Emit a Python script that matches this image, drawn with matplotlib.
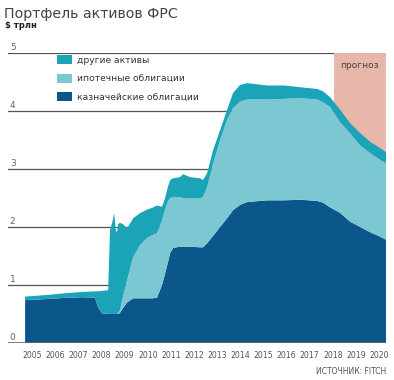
import numpy as np
import matplotlib
matplotlib.use("Agg")
import matplotlib.pyplot as plt

# =========================
# DATA ($ trillion, cumulative tops)
# =========================

years = [2005.20, 2006.20, 2007.00, 2007.66, 2008.22, 2008.35, 2008.53, 2008.79,
         2008.87, 2008.95, 2009.05, 2009.12, 2009.17, 2009.22, 2009.30, 2009.43,
         2009.61, 2009.87, 2010.17, 2010.47, 2010.69, 2010.90, 2011.12, 2011.25,
         2011.38, 2011.47, 2011.60, 2011.90, 2012.03, 2012.33, 2012.76, 2012.89,
         2013.07, 2013.33, 2013.63, 2013.93, 2014.19, 2014.49, 2014.80, 2015.66,
         2016.40, 2017.09, 2017.82, 2018.08, 2018.38, 2018.82, 2019.25, 2019.68,
         2020.11, 2020.55, 2020.80]

treasury_top = [0.74, 0.76, 0.78, 0.79, 0.78, 0.62, 0.51, 0.50,
                0.50, 0.50, 0.50, 0.50, 0.50, 0.50, 0.52, 0.60,
                0.70, 0.77, 0.77, 0.77, 0.77, 0.78, 1.00, 1.20,
                1.40, 1.55, 1.64, 1.66, 1.66, 1.66, 1.65, 1.65,
                1.72, 1.85, 2.00, 2.15, 2.29, 2.38, 2.43, 2.46,
                2.46, 2.47, 2.45, 2.42, 2.34, 2.24, 2.09, 2.00,
                1.91, 1.83, 1.78]

mbs_top = [0.74, 0.76, 0.78, 0.79, 0.78, 0.62, 0.51, 0.50,
           0.50, 0.50, 0.50, 0.50, 0.50, 0.52, 0.57, 0.80,
           1.09, 1.48, 1.69, 1.81, 1.86, 1.89, 2.12, 2.30,
           2.45, 2.50, 2.52, 2.51, 2.50, 2.50, 2.49, 2.52,
           2.69, 3.10, 3.50, 3.85, 4.05, 4.16, 4.20, 4.20,
           4.21, 4.22, 4.20, 4.15, 4.07, 3.81, 3.62, 3.41,
           3.28, 3.16, 3.10]

total_top = [0.80, 0.83, 0.86, 0.88, 0.89, 0.89, 0.90, 0.91,
             1.95, 2.05, 2.24, 1.95, 1.90, 2.05, 2.07, 2.05,
             1.98, 2.15, 2.24, 2.30, 2.33, 2.37, 2.35, 2.50,
             2.70, 2.81, 2.84, 2.86, 2.91, 2.86, 2.84, 2.81,
             2.93, 3.33, 3.67, 4.02, 4.31, 4.45, 4.48, 4.44,
             4.44, 4.41, 4.38, 4.34, 4.24, 4.02, 3.79, 3.62,
             3.47, 3.36, 3.29]

labels = ["казначейские облигации", "ипотечные облигации", "другие активы"]
colors = ["#0b578c", "#7bc8d2", "#1ba3b7"]

year_labels = [str(y) for y in range(2005, 2021)]
y_ticks = [0, 1, 2, 3, 4, 5]

forecast_start = 2018.56
x_min, x_max = 2004.46, 2020.80

# =========================
# FIGURE
# =========================

W, H = 394, 380
fig = plt.figure(figsize=(W / 100, H / 100), dpi=100)
ax = fig.add_axes([8 / W, 37 / H, (386 - 8) / W, (343 - 53) / H])

treasury = np.array(treasury_top)
mbs = np.array(mbs_top) - treasury
other = np.array(total_top) - np.array(mbs_top)

ax.axvspan(forecast_start, x_max, color="#e9b6aa", lw=0, zorder=1)

for v in y_ticks[1:]:
    ax.axhline(v, color="#555555", lw=0.9, zorder=0.5)
    ax.text(x_min + 0.08, v + 0.1, str(v), fontsize=6.5, color="#666666",
            va="center", ha="left")
ax.axhline(0, color="#666666", lw=1.2, zorder=3)
ax.text(x_min + 0.08, 0.1, "0", fontsize=6.5, color="#666666", va="center", ha="left")

polys = ax.stackplot(years, treasury, mbs, other, colors=colors, linewidth=0, zorder=2)

ax.text(2019.65, 4.78, "прогноз", fontsize=6.5, color="#444444", ha="center", va="center")

ax.set_xlim(x_min, x_max)
ax.set_ylim(0, 5)
ax.set_xticks([y + 0.5 for y in range(2005, 2021)])
ax.set_xticklabels(year_labels, fontsize=5.6, color="#555555")
ax.tick_params(axis="x", length=0, pad=6)
ax.set_yticks([])
for s in ax.spines.values():
    s.set_visible(False)

leg = ax.legend(polys[::-1], labels[::-1], loc="upper left",
                bbox_to_anchor=(57 / W, 1 - 55 / H), bbox_transform=fig.transFigure,
                frameon=False, fontsize=6.6, borderpad=0, borderaxespad=0,
                handlelength=1.65, handleheight=1.2, handletextpad=0.5,
                labelspacing=0.95)
for t in leg.get_texts():
    t.set_color("#333333")

fig.text(4 / W, 1 - 14 / H, "Портфель активов ФРС", fontsize=10.2, color="#444444",
         ha="left", va="center")
fig.text(5 / W, 1 - 26 / H, "$ трлн", fontsize=6, color="#222222",
         ha="left", va="center", fontweight="bold")
fig.text(386 / W, 1 - 372 / H, "ИСТОЧНИК: FITCH", fontsize=5.5, color="#555555",
         ha="right", va="center")

fig.savefig("out.png", dpi=100)
